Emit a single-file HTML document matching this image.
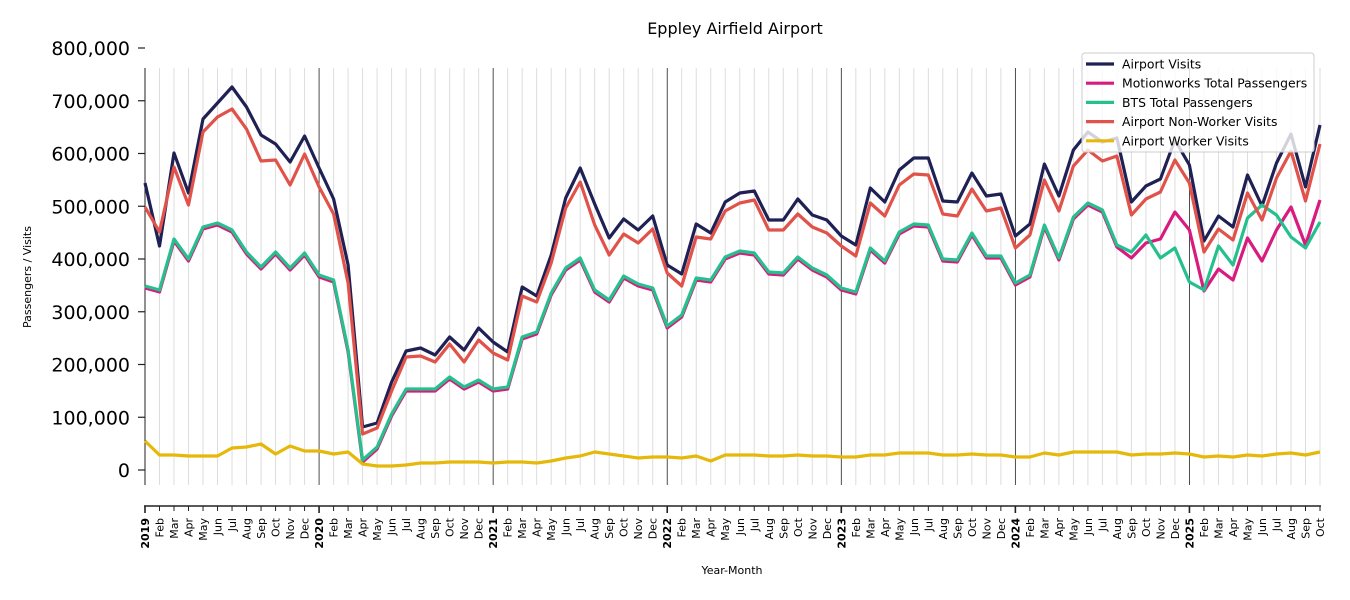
<!DOCTYPE html>
<html><head><meta charset="utf-8"><style>
body{margin:0;background:#fff;}
svg{display:block;font-family:"DejaVu Sans","Liberation Sans",sans-serif;}
</style></head><body>
<svg id="s" width="1350" height="600" xmlns="http://www.w3.org/2000/svg"></svg>
<script>
const S=document.getElementById('s');
let h='';
const X=i=>145+i*1175/81;
const Y=v=>470-v*422/800000;
h+='<text x="735" y="34" font-size="16" text-anchor="middle">Eppley Airfield Airport</text>';
const mon=['Jan','Feb','Mar','Apr','May','Jun','Jul','Aug','Sep','Oct','Nov','Dec'];
for(let i=0;i<82;i++){const x=X(i);
 if(i%12==0){h+=`<line x1="${x}" y1="68" x2="${x}" y2="485" stroke="#222" stroke-width="0.8"/>`;}
 else h+=`<line x1="${x}" y1="68" x2="${x}" y2="485" stroke="#ddd" stroke-width="1"/>`;
 h+=`<line x1="${x}" y1="506" x2="${x}" y2="${i%12==0?513:511}" stroke="#222" stroke-width="${i%12==0?1.6:1}"/>`;
 const lab=i%12==0?(2019+i/12):mon[i%12];
 h+=`<text transform="translate(${x+4},518) rotate(-90)" font-size="11" text-anchor="end" ${i%12==0?'font-weight="bold"':''}>${lab}</text>`;
}
h+='<line x1="145" y1="68" x2="145" y2="485" stroke="#222" stroke-width="1"/>';
h+='<line x1="144" y1="506" x2="1321" y2="506" stroke="#222" stroke-width="1.6"/>';
for(let v=0;v<=800000;v+=100000){const y=Y(v);
 h+=`<line x1="138" y1="${y}" x2="145" y2="${y}" stroke="#222" stroke-width="1.2"/>`;
 h+=`<text x="130" y="${y+7}" font-size="19" text-anchor="end">${v.toLocaleString('en-US')}</text>`;}
h+='<text transform="translate(31,277) rotate(-90)" font-size="11" text-anchor="middle">Passengers / Visits</text>';
h+='<text x="732" y="574" font-size="11" text-anchor="middle">Year-Month</text>';
const nav=[183,246,153,193,119,103,87,107,135,144,162,136,168,199,265,427,423,382,351,348,355,337,350,328,342,352,287,296,255,198,168,204,238,219,230,216,265,274,224,233,202,193,191,220,220,199,215,220,236,245,188,202,170,158,158,201,202,173,196,194,236,224,164,196,150,132,142,138,202,186,179,140,165,241,216,227,175,206,163,134,187,125];
const red=[207,232,167,205,132,117,109,129,161,160,185,154,187,214,283,434,428,391,357,356,362,344,362,340,353,360,296,302,263,208,182,225,255,234,243,229,273,286,237,239,211,203,200,230,230,214,227,233,246,256,203,216,185,174,175,214,216,189,211,208,248,235,180,211,166,150,161,156,215,199,192,160,183,252,229,240,193,220,178,151,201,144];
const grn=[286,290,239,259,227,223,230,252,267,252,268,253,275,280,350,460,447,414,389,389,389,377,387,380,389,387,337,332,293,268,258,290,300,276,284,288,326,315,278,280,257,251,253,272,273,257,268,275,288,292,248,261,232,224,225,259,260,233,256,256,283,275,225,258,217,203,210,245,252,235,258,248,282,290,246,265,218,205,215,237,248,222];
const pnk=grn.slice(0,68).map(v=>v+2).concat([258,243,239,212,230,291,269,280,238,261,230,207,245,200]);
const yel=[441,455,455,456,456,456,448,447,444,454,446,451,451,454,452,464,466,466,465,463,463,462,462,462,463,462,462,463,461,458,456,452,454,456,458,457,457,458,456,461,455,455,455,456,456,455,456,456,457,457,455,455,453,453,453,455,455,454,455,455,457,457,453,455,452,452,452,452,455,454,454,453,454,457,456,457,455,456,454,453,455,452];
const pl=(a,c)=>`<polyline fill="none" stroke="${c}" stroke-width="3.2" stroke-linejoin="round" points="${a.map((y,i)=>X(i).toFixed(1)+','+y).join(' ')}"/>`;
h+=pl(nav,'#1f2054')+pl(pnk,'#d81b7f')+pl(grn,'#26c08e')+pl(red,'#e0524a')+pl(yel,'#e6b80a');
h+='<rect x="1082" y="53" width="232" height="99" rx="3" fill="#fff" fill-opacity="0.8" stroke="#ccc"/>';
const L=[['Airport Visits','#1f2054'],['Motionworks Total Passengers','#d81b7f'],['BTS Total Passengers','#26c08e'],['Airport Non-Worker Visits','#e0524a'],['Airport Worker Visits','#e6b80a']];
L.forEach((l,k)=>{const y=64+k*19.2;
 h+=`<line x1="1086" y1="${y}" x2="1114" y2="${y}" stroke="${l[1]}" stroke-width="3.2"/>`;
 h+=`<text x="1122" y="${y+4.5}" font-size="12.4">${l[0]}</text>`;});
S.innerHTML=h;
</script>
</body></html>
